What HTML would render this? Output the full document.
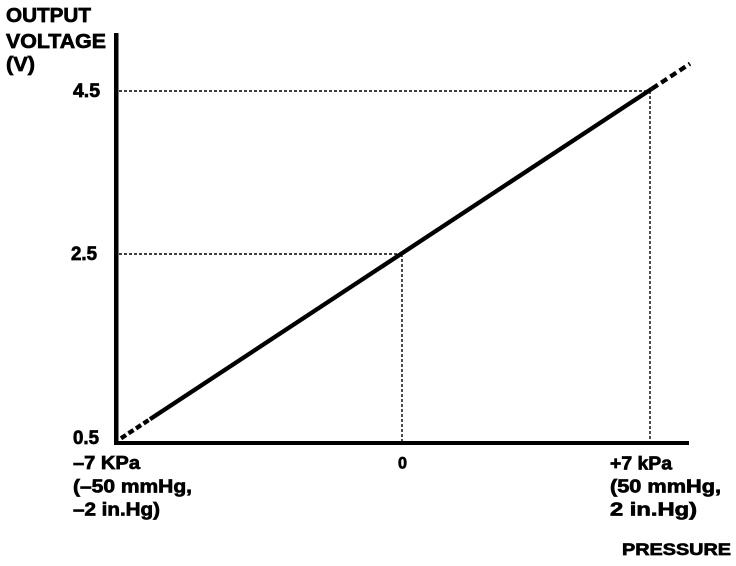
<!DOCTYPE html>
<html>
<head>
<meta charset="utf-8">
<style>
  html,body{margin:0;padding:0;background:#fff;}
  svg{display:block;}
  text{font-family:"Liberation Sans",Arial,sans-serif;font-weight:bold;fill:#000;stroke:#000;stroke-width:0.7px;}
</style>
</head>
<body>
<svg width="736" height="566" viewBox="0 0 736 566" xmlns="http://www.w3.org/2000/svg">
  <rect width="736" height="566" fill="#fff"/>

  <!-- dotted guide lines -->
  <g stroke="#000" stroke-width="1.4" stroke-dasharray="3,2" fill="none">
    <line x1="119" y1="91" x2="650" y2="91"/>
    <line x1="650" y1="91" x2="650" y2="441"/>
    <line x1="119" y1="254" x2="402" y2="254"/>
    <line x1="402" y1="254" x2="402" y2="441"/>
  </g>

  <!-- axes -->
  <rect x="114" y="33" width="4.5" height="412" fill="#000"/>
  <rect x="114" y="441" width="575" height="4" fill="#000"/>

  <!-- main line -->
  <g stroke="#000" stroke-width="4.3" fill="none" stroke-linecap="butt">
    <line x1="121" y1="438.3" x2="150" y2="419.2" stroke-dasharray="6,3"/>
    <line x1="150" y1="419.2" x2="652" y2="88.7"/>
    <line x1="652" y1="88.7" x2="690" y2="63.7" stroke-dasharray="7,4"/>
  </g>

  <!-- y labels -->
  <text x="6" y="22" font-size="20" textLength="85" lengthAdjust="spacingAndGlyphs">OUTPUT</text>
  <text x="6" y="48" font-size="20" textLength="100" lengthAdjust="spacingAndGlyphs">VOLTAGE</text>
  <text x="6" y="71" font-size="20" textLength="29" lengthAdjust="spacingAndGlyphs">(V)</text>

  <text x="73" y="97" font-size="19" textLength="27" lengthAdjust="spacingAndGlyphs">4.5</text>
  <text x="71" y="260" font-size="19" textLength="26" lengthAdjust="spacingAndGlyphs">2.5</text>
  <text x="73" y="444" font-size="19" textLength="26" lengthAdjust="spacingAndGlyphs">0.5</text>

  <!-- x labels -->
  <text x="73" y="469" font-size="18.5" textLength="67" lengthAdjust="spacingAndGlyphs">–7 KPa</text>
  <text x="73" y="492.5" font-size="18.5" textLength="119" lengthAdjust="spacingAndGlyphs">(–50 mmHg,</text>
  <text x="73" y="515.5" font-size="18.5" textLength="87" lengthAdjust="spacingAndGlyphs">–2 in.Hg)</text>

  <text x="398" y="468.5" font-size="17" textLength="9" lengthAdjust="spacingAndGlyphs">0</text>

  <text x="610" y="469.5" font-size="18.5" textLength="62" lengthAdjust="spacingAndGlyphs">+7 kPa</text>
  <text x="610" y="492.5" font-size="18.5" textLength="111" lengthAdjust="spacingAndGlyphs">(50 mmHg,</text>
  <text x="610" y="515.5" font-size="18.5" textLength="87" lengthAdjust="spacingAndGlyphs">2 in.Hg)</text>

  <text x="622" y="555" font-size="17" textLength="109" lengthAdjust="spacingAndGlyphs">PRESSURE</text>
</svg>
</body>
</html>
